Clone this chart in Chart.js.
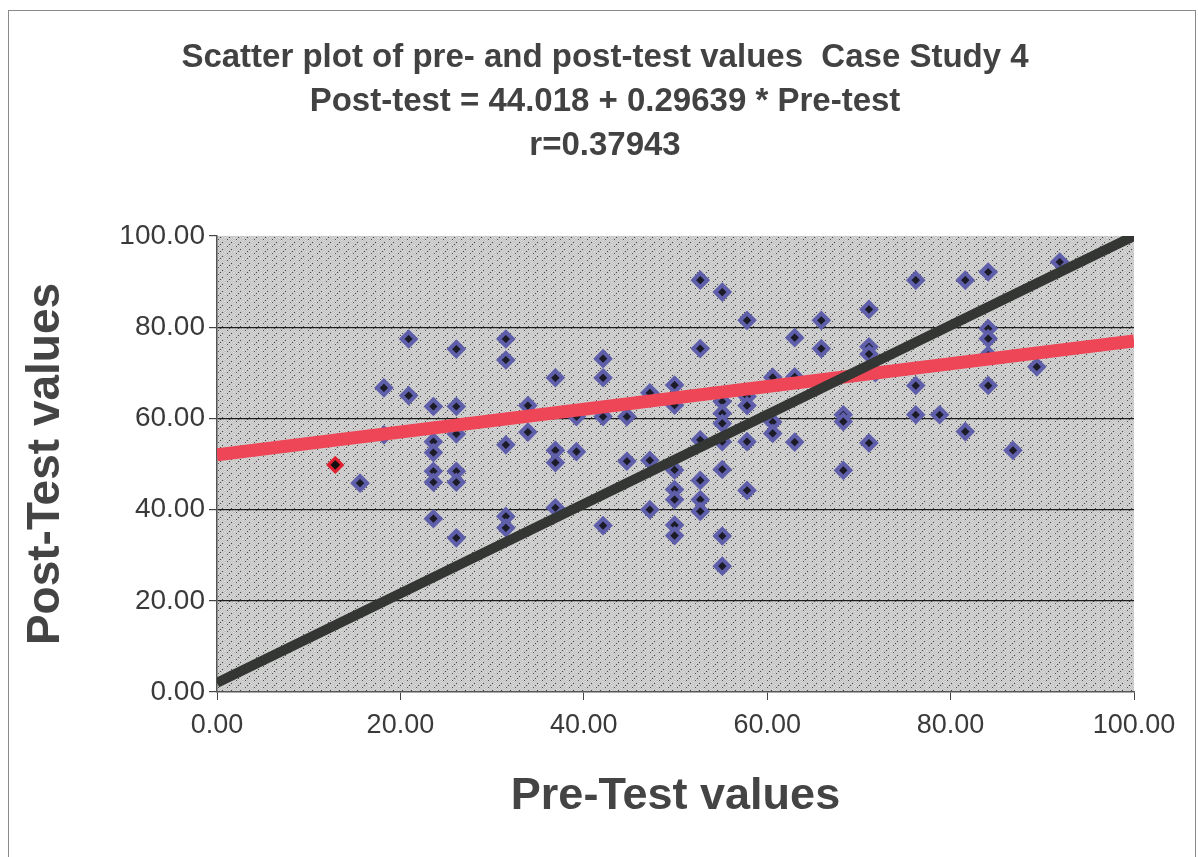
<!DOCTYPE html>
<html>
<head>
<meta charset="utf-8">
<title>Scatter plot of pre- and post-test values</title>
<script src="https://cdn.jsdelivr.net/npm/chart.js@4.4.1/dist/chart.umd.min.js"></script>
<style>
  html, body { margin: 0; padding: 0; background: #fff; }
  #wrap { width: 1198px; height: 857px; }
</style>
</head>
<body>
<div id="wrap"><canvas id="scatterCanvas" width="1198" height="857"></canvas></div>
<script>
// values
var preTest = [
    15.6, 18.2, 18.2, 20.9, 20.9, 23.6, 23.6, 23.6, 23.6, 23.6, 23.6,
    26.1, 26.1, 26.1, 26.1, 26.1, 26.1, 31.5, 31.5, 31.5, 31.5, 31.5, 33.9, 33.9,
    36.9, 36.9, 36.9, 36.9, 39.2, 39.2, 42.1, 42.1, 42.1, 42.1, 44.7, 44.7,
    47.2, 47.2, 47.2, 49.9, 49.9, 49.9, 49.9, 49.9, 49.9, 49.9,
    52.7, 52.7, 52.7, 52.7, 52.7, 52.7, 55.1, 55.1, 55.1, 55.1, 55.1, 55.1, 55.1, 55.1,
    57.8, 57.8, 57.8, 57.8, 57.8, 60.6, 60.6, 60.6, 63.0, 63.0, 63.0, 65.9, 65.9,
    68.3, 68.3, 68.3, 71.1, 71.1, 71.1, 71.1, 71.8,
    76.2, 76.2, 76.2, 78.8, 81.6, 81.6, 84.1, 84.1, 84.1, 84.1, 84.1, 86.8, 89.4, 91.9
];
var postTest = [
    45.8, 66.7, 56.4, 77.4, 65.0, 62.6, 54.9, 52.5, 48.4, 46.0, 38.0,
    75.2, 62.6, 56.6, 48.4, 46.0, 33.8, 77.4, 72.8, 54.2, 38.5, 36.0, 62.8, 57.0,
    68.9, 53.0, 50.3, 40.4, 60.4, 52.7, 73.1, 68.9, 60.4, 36.5, 60.4, 50.6,
    65.6, 50.8, 40.0, 67.3, 62.9, 48.7, 44.4, 42.2, 36.6, 34.3,
    90.3, 75.3, 55.3, 46.4, 42.2, 39.6, 87.7, 63.7, 61.1, 58.9, 54.9, 48.8, 34.2, 27.6,
    81.5, 64.8, 62.8, 54.9, 44.2, 69.0, 59.2, 56.7, 77.7, 69.1, 54.8, 81.5, 75.3,
    60.8, 59.3, 48.6, 83.9, 75.7, 74.1, 54.6, 70.0,
    90.3, 67.2, 60.8, 60.8, 90.3, 57.1, 92.1, 79.7, 77.5, 73.9, 67.2, 53.0, 71.3, 94.3
];

// the one point drawn with a red outline
var flaggedPre = [12.9];
var flaggedPost = [49.8];

// fitted (red) line and the diagonal (black) line, as drawn
var fitLinePre = [0, 100];
var fitLinePost = [52, 77];
var diagLinePre = [0, 100];
var diagLinePost = [2, 100];

var xTicks = [0, 20, 40, 60, 80, 100];
var yTicks = [0, 20, 40, 60, 80, 100];

var titleLines = [
    'Scatter plot of pre- and post-test values  Case Study 4',
    'Post-test = 44.018 + 0.29639 * Pre-test',
    'r=0.37943'
];

function toPoints(xs, ys) {
    return xs.map(function (x, i) { return { x: x, y: ys[i] }; });
}

// grey speckled plot background, a fixed tile (no random numbers)
function makeSpeckle(ctx) {
    var tile = document.createElement('canvas');
    tile.width = 9;
    tile.height = 7;
    var t = tile.getContext('2d');
    for (var i = 0; i < 9; i++) {
        for (var j = 0; j < 7; j++) {
            t.fillStyle = ((i + j) % 2 === 0) ? '#d8d8d8' : '#c0c0c0';
            t.fillRect(i, j, 1, 1);
        }
    }
    t.fillStyle = '#4a4a4a';
    t.fillRect(2, 1, 1, 1);
    t.fillRect(6, 4, 1, 1);
    t.fillRect(4, 6, 1, 1);
    return ctx.createPattern(tile, 'repeat');
}

var backdrop = {
    id: 'backdrop',
    beforeDraw: function (chart) {
        var ctx = chart.ctx;
        var a = chart.chartArea;
        ctx.save();
        ctx.fillStyle = '#ffffff';
        ctx.fillRect(0, 0, chart.width, chart.height);
        ctx.strokeStyle = '#8a8a8a';
        ctx.lineWidth = 1;
        ctx.strokeRect(8.5, 10.5, 1187, 900);
        ctx.fillStyle = makeSpeckle(ctx);
        ctx.fillRect(a.left, a.top, a.right - a.left, a.bottom - a.top);
        ctx.restore();
    }
};

Chart.defaults.font.family = '"Liberation Sans", Arial, sans-serif';

var ctx = document.getElementById('scatterCanvas').getContext('2d');

// left padding shifts the centred title right; the y axis takes the rest up to x=217
var padLeft = 76;

var scatterChart = new Chart(ctx, {
    type: 'scatter',
    data: {
        datasets: [
            {
                label: 'Diagonal',
                data: toPoints(diagLinePre, diagLinePost),
                showLine: true,
                borderColor: '#333633',
                borderWidth: 10,
                pointRadius: 0,
                order: 0
            },
            {
                label: 'Fitted line',
                data: toPoints(fitLinePre, fitLinePost),
                showLine: true,
                borderColor: '#ee4656',
                borderWidth: 13,
                pointRadius: 0,
                order: 1
            },
            {
                label: 'Flagged',
                data: toPoints(flaggedPre, flaggedPost),
                pointStyle: 'rectRot',
                pointRadius: 7,
                backgroundColor: '#111111',
                borderColor: '#e02030',
                borderWidth: 3,
                order: 2
            },
            {
                label: 'Pre/Post',
                data: toPoints(preTest, postTest),
                pointStyle: 'rectRot',
                pointRadius: 7,
                backgroundColor: '#1c1c28',
                borderColor: '#5e5eaa',
                borderWidth: 4,
                order: 3
            }
        ]
    },
    options: {
        responsive: false,
        animation: false,
        events: [],
        layout: { padding: { left: padLeft, right: 64, top: 0, bottom: 0 } },
        plugins: {
            legend: { display: false },
            tooltip: { enabled: false },
            title: {
                display: true,
                text: titleLines,
                color: '#424242',
                font: { size: 33, weight: 'bold', lineHeight: 1.333 },
                padding: { top: 36, bottom: 68 }
            }
        },
        scales: {
            x: {
                type: 'linear',
                min: 0,
                max: 100,
                afterBuildTicks: function (s) {
                    s.ticks = xTicks.map(function (v) { return { value: v }; });
                },
                afterFit: function (s) { s.height = 165; },
                grid: { drawOnChartArea: false, drawTicks: true, tickLength: 8, tickColor: '#444' },
                border: { color: '#555', width: 1.5 },
                ticks: {
                    color: '#3a3a3a',
                    font: { size: 27 },
                    padding: 9,
                    maxRotation: 0,
                    callback: function (v) { return Number(v).toFixed(2); }
                },
                title: {
                    display: true,
                    text: 'Pre-Test values',
                    color: '#444',
                    font: { size: 45, weight: 'bold', lineHeight: 1.2 },
                    padding: { top: 0, bottom: 33 }
                }
            },
            y: {
                type: 'linear',
                min: 0,
                max: 100,
                afterBuildTicks: function (s) {
                    s.ticks = yTicks.map(function (v) { return { value: v }; });
                },
                afterFit: function (s) { s.width = 217 - padLeft; },
                grid: {
                    color: function (c) {
                        return (c.tick && (c.tick.value === 100 || c.tick.value === 0)) ? 'rgba(0,0,0,0)' : 'rgba(10,10,10,0.9)';
                    },
                    lineWidth: 1.2,
                    tickLength: 8,
                    tickColor: '#444'
                },
                border: { color: '#555', width: 1.5 },
                ticks: {
                    color: '#3a3a3a',
                    font: { size: 28 },
                    padding: 4,
                    callback: function (v) { return Number(v).toFixed(2); }
                },
                title: {
                    display: true,
                    text: 'Post-Test values',
                    color: '#444',
                    font: { size: 46, weight: 'bold', lineHeight: 1.2 },
                    // negative: the title sits left of the padded area, near x=46
                    padding: { top: 19 - padLeft, bottom: 0 }
                }
            }
        }
    },
    plugins: [backdrop]
});
</script>
</body>
</html>
